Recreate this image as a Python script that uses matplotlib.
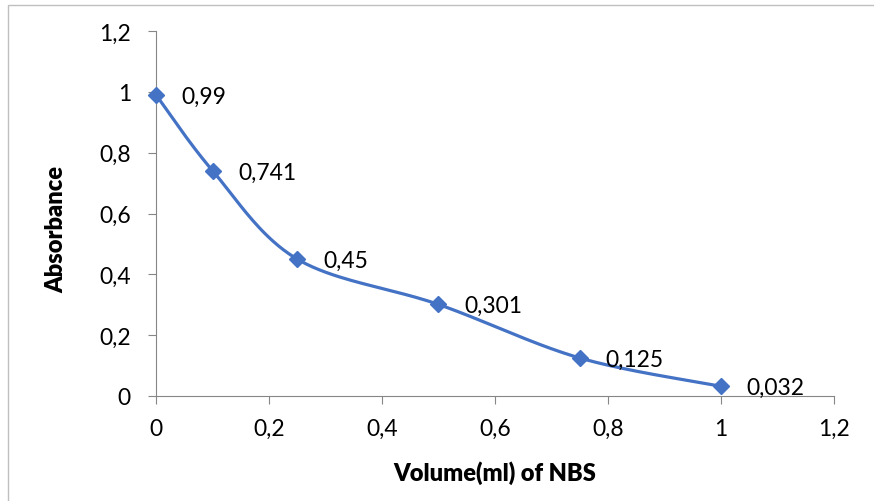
import numpy as np
import matplotlib.pyplot as plt
from matplotlib.patches import Rectangle

# data
volume = [0, 0.1, 0.25, 0.5, 0.75, 1.0]
absorbance = [0.99, 0.741, 0.45, 0.301, 0.125, 0.032]
labels = ["0,99", "0,741", "0,45", "0,301", "0,125", "0,032"]
ticks = [0, 0.2, 0.4, 0.6, 0.8, 1.0, 1.2]
tick_labels = ["0", "0,2", "0,4", "0,6", "0,8", "1", "1,2"]

blue = "#4472C4"
grey = "#868686"
fs = 16.5
plt.rcParams['font.family'] = ['Lato', 'DejaVu Sans']

fig = plt.figure(figsize=(8.74, 5.02), dpi=100)
# chart border (only top and left edges fall inside the image)
fig.patches.append(Rectangle((8/874, -0.1), 2, 1.1 - 6/502, transform=fig.transFigure,
                             fill=False, edgecolor="#BFBFBF", linewidth=1))
ax = fig.add_axes([156/874, 105/502, 678/874, 365/502])
ax.set_xlim(0, 1.2)
ax.set_ylim(0, 1.2)

# Excel-like smoothed line (bezier through the points, in pixel space)
pts = ax.transData.transform(np.column_stack([volume, absorbance]))
curve = []
n = len(pts)
for i in range(n - 1):
    p0 = pts[max(i - 1, 0)]
    p1 = pts[i]
    p2 = pts[i + 1]
    p3 = pts[min(i + 2, n - 1)]
    c1 = p1 + (p2 - p0) / 6
    c2 = p2 - (p3 - p1) / 6
    t = np.linspace(0, 1, 40)[:, None]
    seg = (1 - t)**3 * p1 + 3 * (1 - t)**2 * t * c1 + 3 * (1 - t) * t**2 * c2 + t**3 * p2
    curve.append(seg)
curve = ax.transData.inverted().transform(np.vstack(curve))
ax.plot(curve[:, 0], curve[:, 1], color=blue, linewidth=2.3, clip_on=False)
ax.plot(volume, absorbance, linestyle="none", marker="D", markersize=8.3,
        color=blue, clip_on=False, zorder=3)

for x, y, s in zip(volume, absorbance, labels):
    ax.annotate(s, (x, y), xytext=(18.5, -1), textcoords="offset points",
                va="center", ha="left", fontsize=fs)

for side in ["top", "right"]:
    ax.spines[side].set_visible(False)
for side in ["left", "bottom"]:
    ax.spines[side].set_color(grey)
ax.set_xticks(ticks)
ax.set_xticklabels(tick_labels)
ax.set_yticks(ticks)
ax.set_yticklabels(tick_labels)
ax.tick_params(colors=grey, labelcolor="black", labelsize=fs, length=6, direction="out")
ax.tick_params(axis="x", pad=10)
ax.tick_params(axis="y", pad=12)
ax.set_xlabel("Volume(ml) of NBS", fontweight="heavy", fontsize=17)
ax.set_ylabel("Absorbance", fontweight="heavy", fontsize=17)
ax.xaxis.label.set_verticalalignment("center")
ax.yaxis.label.set_verticalalignment("center")
ax.xaxis.set_label_coords(0.5, -0.208)
ax.yaxis.set_label_coords(-0.147, 0.46)

fig.savefig("out.png")
